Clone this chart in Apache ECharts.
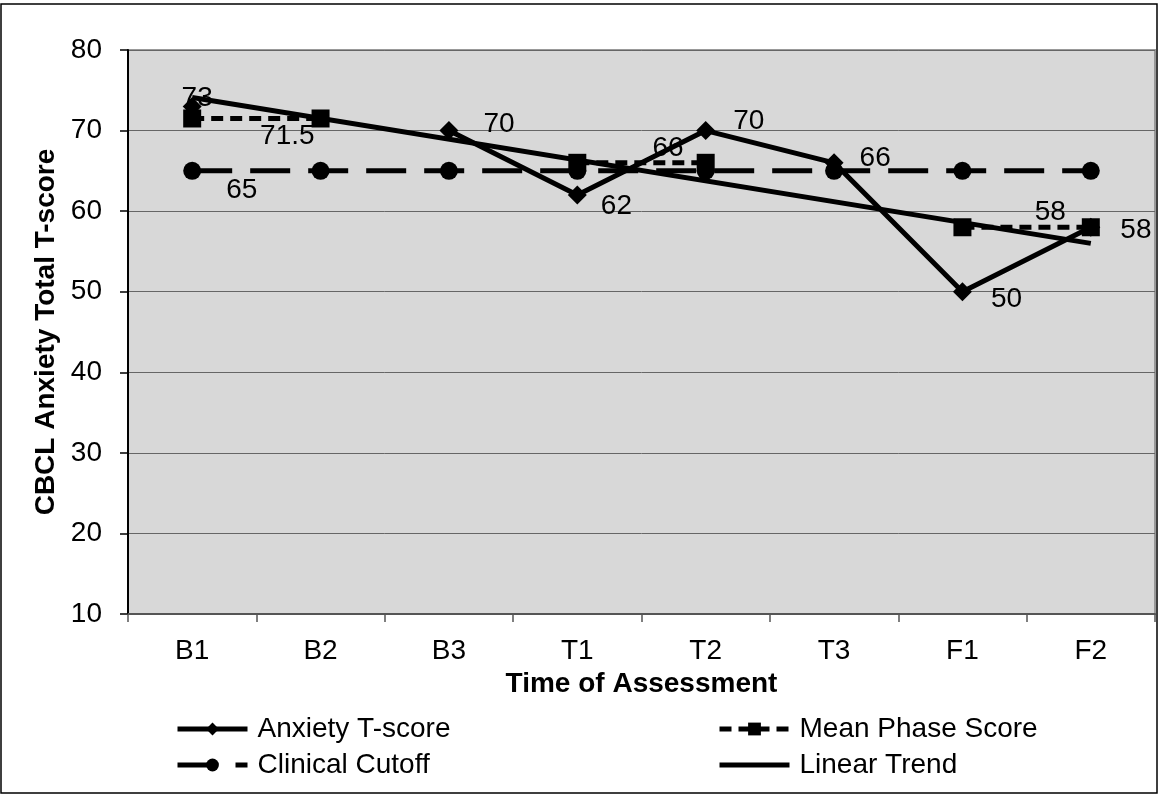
<!DOCTYPE html>
<html>
<head>
<meta charset="utf-8">
<script src="https://cdn.jsdelivr.net/npm/echarts@6/dist/echarts.min.js"></script>
<style>
  html, body { margin: 0; padding: 0; background: #fff; }
  #chart { width: 1158px; height: 794px; }
</style>
</head>
<body>
<div id="chart"></div>
<script>
// ---- data ----
const categories = ['B1', 'B2', 'B3', 'T1', 'T2', 'T3', 'F1', 'F2'];
const anxietyScores = [73, null, 70, 62, 70, 66, 50, 58];
const meanPhaseScores = [71.5, 71.5, null, 66, 66, null, 58, 58];
const clinicalCutoff = [65, 65, 65, 65, 65, 65, 65, 65];
const linearTrend = [74.1, null, null, null, null, null, null, 56.0];
const yTicks = { min: 10, max: 80, interval: 10 };

// ---- label styling (kept separate from data) ----
const FONT = "'Liberation Sans', Arial, sans-serif";
const anxietyLabelStyle = [
  { position: 'inside', offset: [5, -8] },
  null,
  { position: 'right', offset: [20, -6] },
  { position: 'right', offset: [9, 11] },
  { position: 'right', offset: [13, -9] },
  { position: 'right', offset: [11, -5] },
  { position: 'right', offset: [14, 8] },
  { position: 'right', offset: [15, 3] }
];
const meanLabelStyle = [
  null,
  { position: 'left', offset: [8, 18] },
  null, null,
  { position: 'left', offset: [-8, -15] },
  null, null,
  { position: 'left', offset: [-11, -15] }
];
const cutoffLabelStyle = [{ position: 'right', offset: [20, 19] }];

function withLabels(values, styles) {
  return values.map((v, i) => {
    const s = styles[i];
    if (v == null) return null;
    if (!s) return { value: v, label: { show: false } };
    return { value: v, label: Object.assign({ show: true, distance: 5 }, s) };
  });
}

const labelBase = {
  show: false,
  color: '#000',
  fontSize: 28,
  fontFamily: FONT,
  formatter: p => String(p.value)
};

const chart = echarts.init(document.getElementById('chart'), null, { renderer: 'canvas' });

const legendCommon = {
  orient: 'horizontal',
  padding: 0,
  itemWidth: 70,
  itemHeight: 16,
  textStyle: { color: '#000', fontSize: 28, fontFamily: FONT, padding: [0, 0, 0, 5] },
  selectedMode: false
};

const option = {
  backgroundColor: '#fff',
  animation: false,
  textStyle: { fontFamily: FONT },
  graphic: [{
    type: 'rect',
    shape: { x: 1, y: 4, width: 1156, height: 789 },
    style: { fill: 'none', stroke: '#000', lineWidth: 1.5 },
    silent: true,
    z: -10
  }],
  grid: {
    left: 128, right: 3, top: 50, bottom: 180,
    show: true,
    backgroundColor: '#d8d8d8',
    borderColor: '#999',
    borderWidth: 2
  },
  legend: [
    Object.assign({}, legendCommon, { left: 175, top: 715,
      lineStyle: { width: 5, type: 'solid' },
      data: [{ name: 'Anxiety T-score' }] }),
    Object.assign({}, legendCommon, { left: 717, top: 715,
      lineStyle: { width: 5, type: [12, 7] },
      data: [{ name: 'Mean Phase Score' }] }),
    Object.assign({}, legendCommon, { left: 175, top: 751,
      lineStyle: { width: 5, type: [40, 18] },
      data: [{ name: 'Clinical Cutoff' }] }),
    Object.assign({}, legendCommon, { left: 717, top: 751,
      lineStyle: { width: 5, type: 'solid' },
      data: [{ name: 'Linear Trend', itemStyle: { opacity: 0 } }] })
  ],
  xAxis: {
    type: 'category',
    data: categories,
    boundaryGap: true,
    name: 'Time of Assessment',
    nameLocation: 'middle',
    nameGap: 53,
    nameTextStyle: { color: '#000', fontSize: 28, fontWeight: 'bold', fontFamily: FONT },
    axisLine: { show: true, lineStyle: { color: '#555', width: 2 } },
    axisTick: { show: true, inside: false, length: 8, alignWithLabel: false, lineStyle: { color: '#555', width: 1.5 } },
    axisLabel: { color: '#000', fontSize: 28, fontFamily: FONT, margin: 23 },
    splitLine: { show: false }
  },
  yAxis: {
    type: 'value',
    min: yTicks.min,
    max: yTicks.max,
    interval: yTicks.interval,
    name: 'CBCL Anxiety Total T-score',
    nameLocation: 'middle',
    nameGap: 68,
    nameRotate: 90,
    nameTextStyle: { color: '#000', fontSize: 28, fontWeight: 'bold', fontFamily: FONT },
    axisLine: { show: true, lineStyle: { color: '#000', width: 2 } },
    axisTick: { show: true, inside: false, length: 8, lineStyle: { color: '#000', width: 1.5 } },
    axisLabel: { color: '#000', fontSize: 28, fontFamily: FONT, margin: 26 },
    splitLine: { show: true, lineStyle: { color: '#666', width: 1 } }
  },
  series: [
    {
      name: 'Anxiety T-score',
      type: 'line',
      data: withLabels(anxietyScores, anxietyLabelStyle),
      connectNulls: false,
      symbol: 'diamond',
      symbolSize: 19,
      lineStyle: { color: '#000', width: 5, type: 'solid' },
      itemStyle: { color: '#000' },
      label: labelBase,
      z: 4
    },
    {
      name: 'Mean Phase Score',
      type: 'line',
      data: withLabels(meanPhaseScores, meanLabelStyle),
      connectNulls: false,
      symbol: 'rect',
      symbolSize: 18,
      lineStyle: { color: '#000', width: 5, type: [12, 7] },
      itemStyle: { color: '#000' },
      label: labelBase,
      z: 3
    },
    {
      name: 'Clinical Cutoff',
      type: 'line',
      data: withLabels(clinicalCutoff, cutoffLabelStyle),
      symbol: 'circle',
      symbolSize: 18,
      lineStyle: { color: '#000', width: 5, type: [40, 18] },
      itemStyle: { color: '#000' },
      label: labelBase,
      z: 2
    },
    {
      name: 'Linear Trend',
      type: 'line',
      data: linearTrend,
      connectNulls: true,
      symbol: 'none',
      showSymbol: false,
      lineStyle: { color: '#000', width: 5, type: 'solid' },
      itemStyle: { color: '#000' },
      z: 5
    }
  ]
};

chart.setOption(option);
</script>
</body>
</html>
